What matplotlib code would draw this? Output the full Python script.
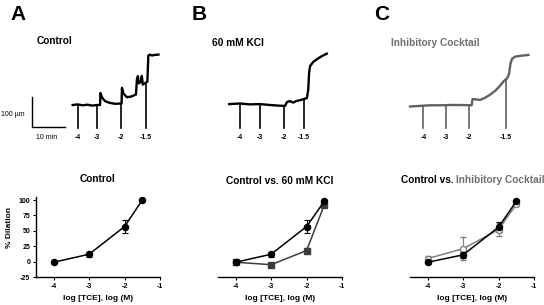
import numpy as np
import matplotlib.pyplot as plt

plt.rcParams['font.family'] = ['Liberation Sans', 'DejaVu Sans']
plt.rcParams['axes.unicode_minus'] = False

# --- dose-response data (log [TCE], % dilation) ---
doses = [-4, -3, -2, -1.5]
control_a = [-1, 12, 57, 100]
control_a_err = [2, 4, 10, 0]
control_b = [-1, 12, 57, 98]
control_b_err = [2, 4, 10, 2]
kcl = [-1, -5, 18, 92]
kcl_err = [2, 2, 4, 2]
control_c = [-1, 11, 56, 98]
control_c_err = [3, 5, 8, 2]
cocktail = [5, 21, 52, 93]
cocktail_err = [4, 19, 10, 3]

# --- diameter traces (time in min, change in diameter in um) ---
trace_a_t = [0, 1.5, 3, 4.5, 6, 7.5, 8.4, 8.5, 9.0, 9.9, 11.4, 13, 15.0, 15.1, 15.6, 16.6,
             17.9, 19.4, 19.7, 20.0, 20.3, 20.9, 21.2, 21.5, 22.5, 22.9, 23.2, 23.7, 24.3, 25.2, 26.3]
trace_a_d = [0, 2, -1, 1, -2, 0, 0, 40, 25, 13, 7, 4, 5, 57, 38, 26,
             28, 35, 85, 96, 72, 78, 97, 68, 75, 78, 165, 168, 165, 167, 168]
marks_a = [1.7, 7.5, 14.7, 22.5]

trace_b_t = [0, 3.3, 6.3, 9.4, 12.5, 14.9, 17.1, 17.7, 18.6, 19.6, 20.5, 21.7, 22.9, 23.8,
             24.2, 24.5, 24.8, 25.7, 26.9, 28.4, 29.9]
trace_b_d = [3, 5, 2, 3, 0, -2, -3, 10, 13, 8, 13, 16, 20, 23,
             50, 110, 130, 143, 153, 163, 171]
marks_b = [3.3, 9.4, 16.8, 22.9]

trace_c_t = [0, 3.1, 6.1, 9.2, 12.3, 15.3, 18.9, 19.2, 19.9, 21.5, 23, 24.5, 26.1, 27.6,
             28.8, 29.8, 30.4, 30.8, 31.3, 32.2, 33.7, 34.9, 36.3]
trace_c_d = [-5, -3, -1, -1, 0, 0, -1, 20, 19, 17, 24, 34, 47, 64,
             80, 89, 104, 137, 154, 161, 164, 165, 167]
marks_c = [4.1, 11, 18.2, 29.4]

mark_labels = ['-4', '-3', '-2', '-1.5']

W, H = 544, 305
fig = plt.figure(figsize=(W / 100, H / 100), dpi=100)

GRAY = '#606060'
TXT_GRAY = '#707070'


def px_axes(left, top, right, bottom):
    return fig.add_axes([left / W, 1 - bottom / H, (right - left) / W, (bottom - top) / H])


# trace scale: 10 min = 32.6 px, 100 um = 30 px
PX_MIN = 3.26
PX_UM = 0.30
BASE_Y = 105


def trace_axes(left, right, origin):
    ax = px_axes(left, 30, right, 150)
    ax.set_xlim((left - origin) / PX_MIN, (right - origin) / PX_MIN)
    ax.set_ylim((BASE_Y - 150) / PX_UM, (BASE_Y - 30) / PX_UM)
    ax.axis('off')
    return ax


def draw_trace(ax, t, d, marks, color):
    ax.plot(t, d, color=color, lw=1.7, solid_joinstyle='round')
    tops = np.interp(marks, t, d)
    for m, top, lab in zip(marks, tops, mark_labels):
        ax.plot([m, m], [top, -78], color=color, lw=1.2)
        ax.text(m, -107, lab, ha='center', va='center', fontsize=5, fontweight='bold')


ax_ta = trace_axes(0, 180, 72.7)
draw_trace(ax_ta, trace_a_t, trace_a_d, marks_a, 'k')
# scale bar
ax_ta.plot([-12.5, -12.5, -2.5], [26, -74, -74], color='k', lw=1)
ax_ta.text(-14.6, -33, '100 µm', ha='right', va='center', fontsize=5)
ax_ta.text(-7.9, -109, '10 min', ha='center', va='center', fontsize=5)

ax_tb = trace_axes(182, 362, 229.3)
draw_trace(ax_tb, trace_b_t, trace_b_d, marks_b, 'k')

ax_tc = trace_axes(364, 544, 410)
draw_trace(ax_tc, trace_c_t, trace_c_d, marks_c, GRAY)

# top titles and panel letters
fig.text(37 / W, 1 - 41 / H, 'Control', fontsize=7.3, fontweight='bold', va='center')
fig.text(212 / W, 1 - 43 / H, '60 mM KCl', fontsize=7.3, fontweight='bold', va='center')
fig.text(391 / W, 1 - 43 / H, 'Inhibitory Cocktail', fontsize=7.3, fontweight='bold',
         va='center', color=TXT_GRAY)
for x, letter in [(10, 'A'), (192, 'B'), (374, 'C')]:
    fig.text(x / W, 1 - 14 / H, letter, fontsize=15, fontweight='bold', va='center')


def dose_axes(left, show_y):
    ax = px_axes(left, 197, left + 124, 277)
    ax.set_xlim(-4.5, -1)
    ax.set_ylim(-25, 105)
    ax.spines['top'].set_visible(False)
    ax.spines['right'].set_visible(False)
    ax.set_xticks([-4, -3, -2, -1])
    ax.tick_params(labelsize=5, length=2.5, width=0.8, pad=1.5)
    for lab in ax.get_xticklabels():
        lab.set_fontweight('bold')
    if show_y:
        ax.set_yticks([-25, 0, 25, 50, 75, 100])
        for lab in ax.get_yticklabels():
            lab.set_fontweight('bold')
    else:
        ax.spines['left'].set_visible(False)
        ax.set_yticks([])
    ax.spines['bottom'].set_linewidth(1.0)
    ax.spines['left'].set_linewidth(1.0)
    ax.set_xlabel('log [TCE], log (M)', fontsize=6, fontweight='bold', labelpad=4)
    ax.patch.set_alpha(0)
    return ax


err_kw = dict(capsize=2, elinewidth=0.8, capthick=0.8, lw=1.1, ms=4.4)

ax_a = dose_axes(36, True)
ax_a.errorbar(doses, control_a, yerr=control_a_err, fmt='o-', color='k', **err_kw)
ax_a.set_title('Control', fontsize=7.3, fontweight='bold', pad=11)
ax_a.set_ylabel('% Dilation', fontsize=6, fontweight='bold')
ax_a.yaxis.set_label_coords(-0.185, 0.62)

ax_b = dose_axes(218, False)
ax_b.errorbar(doses, kcl, yerr=kcl_err, fmt='s-', color='#3c3c3c', **err_kw)
ax_b.errorbar(doses, control_b, yerr=control_b_err, fmt='o-', color='k', **err_kw)
ax_b.set_title('Control vs. 60 mM KCl', fontsize=7.3, fontweight='bold', pad=9)

ax_c = dose_axes(410, False)
ax_c.errorbar(doses, cocktail, yerr=cocktail_err, fmt='o-', color='#808080',
              mfc='white', mew=1.0, **err_kw)
ax_c.errorbar(doses, control_c, yerr=control_c_err, fmt='o-', color='k', **err_kw)
t1 = fig.text(401 / W, 1 - 180 / H, 'Control vs. ', fontsize=7.3, fontweight='bold',
              va='center')
ax_c.annotate('Inhibitory Cocktail', xy=(1, 0.5), xycoords=t1, va='center', ha='left',
              fontsize=7.3, fontweight='bold', color=TXT_GRAY)

fig.savefig('out.png', dpi=100)
